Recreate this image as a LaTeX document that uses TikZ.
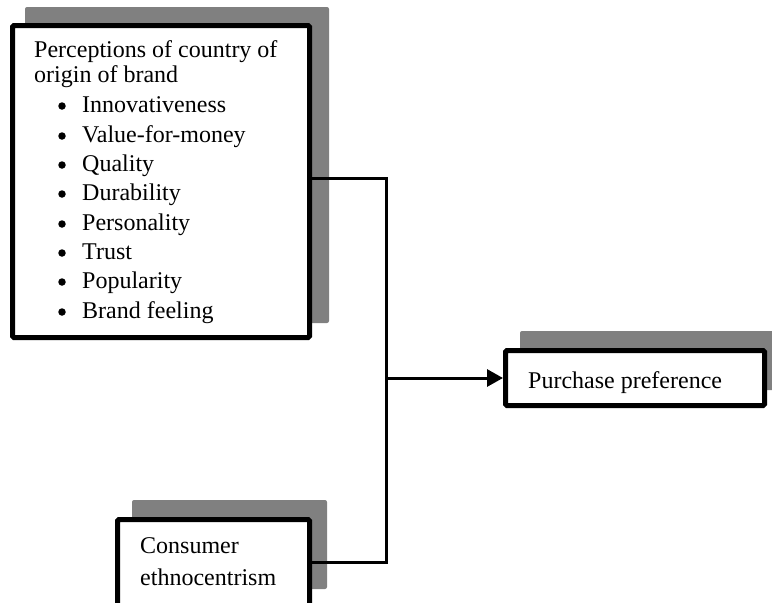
\documentclass[tikz,border=0pt]{standalone}
\usepackage{fontspec}
\setmainfont{Liberation Serif}
\usetikzlibrary{arrows.meta}
\tikzset{
  shadowbox/.style={fill=black!50, rounded corners=2pt, inner sep=0pt, outer sep=0pt},
  mainbox/.style={draw=black, fill=white, line width=5pt, rounded corners=1.5pt, inner sep=0pt},
  lbl/.style={inner sep=0pt, anchor=base west, font=\fontsize{24}{29.4}\selectfont},
  dot/.style={circle, fill=black, inner sep=0pt, minimum size=7.5pt},
  conn/.style={line width=3pt},
  arr/.style={conn, -{Triangle[length=16pt, width=17pt]}}
}
\begin{document}
\begin{tikzpicture}[x=1pt, y=-1pt]
\useasboundingbox (0,0) rectangle (772,603);
% shadows
\node[shadowbox, minimum width=304pt, minimum height=316pt] (cooS) at (177,165) {};
\node[shadowbox, minimum width=260pt, minimum height=59pt] (ppS) at (650,360.5) {};
\node[shadowbox, minimum width=195pt, minimum height=89pt] (ceS) at (229.5,544.5) {};
% boxes
\node[mainbox, minimum width=297pt, minimum height=312pt] (coo) at (161,181.5) {};
\node[mainbox, minimum width=259pt, minimum height=55pt] (pp) at (635,378) {};
\node[mainbox, minimum width=192pt, minimum height=100pt] (ce) at (213.5,569.5) {};
% texts
\node[lbl] (t0) at (34,57) {Perceptions of country of};
\node[lbl] (t1) at (34,82) {origin of brand};
\foreach \y/\t [count=\i] in {112/Innovativeness, 142/Value-for-money, 171/Quality,
    200/Durability, 230/Personality, 259/Trust, 288/Popularity, 318/Brand feeling}{
  \node[dot] (b\i) at (62,\y-6) {};
  \node[lbl] (i\i) at (82,\y) {\t};
}
\node[lbl] (ppt) at (528,388) {Purchase preference};
\node[lbl] (ce1) at (140,553) {Consumer};
\node[lbl] (ce2) at (140,585) {ethnocentrism};
% connectors
\coordinate (j1) at (386,178);
\coordinate (j2) at (386,562);
\coordinate (j3) at (386,378);
\draw[conn, line join=miter] (coo.east |- j1) -- (j1) -- (j2) -- (ce.east |- j2);
\draw[arr] (j3) -- (pp.west);
\end{tikzpicture}
\end{document}
